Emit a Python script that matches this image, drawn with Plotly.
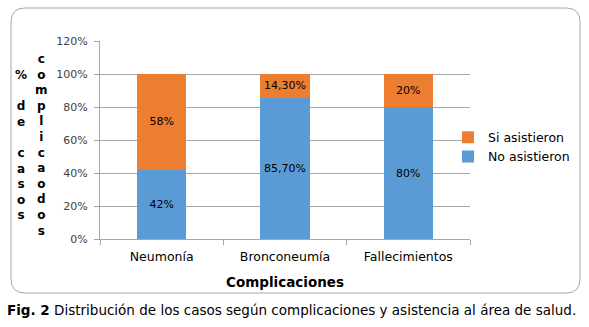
import plotly.graph_objects as go

categories = ["Neumonía", "Bronconeumía", "Fallecimientos"]
no_asistieron = [0.42, 0.857, 0.80]
si_asistieron = [0.58, 0.143, 0.20]
no_labels = ["42%", "85,70%", "80%"]
si_labels = ["58%", "14,30%", "20%"]
y_ticks = [0, 0.2, 0.4, 0.6, 0.8, 1.0, 1.2]
y_ticktext = ["0%", "20%", "40%", "60%", "80%", "100%", "120%"]

W, H = 589, 327
L, R, T, B = 100, 470, 41, 239  # plot area in pixels

BLUE = "#5B9BD5"
ORANGE = "#ED7D31"
GRID = "#A6A6A6"
FONT = "DejaVu Sans"


def px(x):
    return (x - L) / (R - L)


def py(y):
    return (B - y) / (B - T)


fig = go.Figure()
fig.add_trace(go.Bar(
    x=categories, y=no_asistieron, name="No asistieron",
    marker=dict(color=BLUE, line=dict(width=0)),
    text=no_labels, textposition="inside", insidetextanchor="middle",
    textangle=0, textfont=dict(family=FONT, size=11, color="#000000"),
    legendgroup="no", legendrank=2, hoverinfo="skip",
))
fig.add_trace(go.Bar(
    x=categories, y=si_asistieron, name="Si asistieron",
    marker=dict(color=ORANGE, line=dict(width=0)),
    text=si_labels, textposition="inside", insidetextanchor="middle",
    textangle=0, textfont=dict(family=FONT, size=11, color="#000000"),
    legendgroup="si", legendrank=1, hoverinfo="skip",
))

# rounded frame around the chart
x0, x1, y0, y1, r = 11, 580, 8, 293, 14
rx, ry = r / (R - L), r / (B - T)
X0, X1, Y0, Y1 = px(x0), px(x1), py(y1), py(y0)
path = (
    f"M {X0 + rx} {Y1} L {X1 - rx} {Y1} Q {X1} {Y1} {X1} {Y1 - ry} "
    f"L {X1} {Y0 + ry} Q {X1} {Y0} {X1 - rx} {Y0} "
    f"L {X0 + rx} {Y0} Q {X0} {Y0} {X0} {Y0 + ry} "
    f"L {X0} {Y1 - ry} Q {X0} {Y1} {X0 + rx} {Y1} Z"
)
fig.add_shape(type="path", path=path, xref="paper", yref="paper",
              line=dict(color=GRID, width=1), layer="below")

annotations = []
# stacked-letter y axis title in two columns
col1 = "%<br> <br>d<br>e<br> <br>c<br>a<br>s<br>o<br>s"
col2 = "c<br>o<br>m<br>p<br>l<br>i<br>c<br>a<br>o<br>d<br>o<br>s"
annotations.append(dict(text=col1, x=px(21), y=py(66), xref="paper", yref="paper",
                        xanchor="center", yanchor="top", showarrow=False, align="center",
                        font=dict(family=FONT, size=12, color="#000000", weight="bold")))
annotations.append(dict(text=col2, x=px(41), y=py(50), xref="paper", yref="paper",
                        xanchor="center", yanchor="top", showarrow=False, align="center",
                        font=dict(family=FONT, size=12, color="#000000", weight="bold")))
# caption below the frame
annotations.append(dict(
    text="<b>Fig. 2</b> Distribución de los casos según complicaciones y asistencia al área de salud.",
    x=px(5), y=py(310), xref="paper", yref="paper", xanchor="left", yanchor="middle",
    showarrow=False, font=dict(family=FONT, size=13.5, color="#000000")))

fig.update_layout(
    width=W, height=H,
    margin=dict(l=L, r=W - R, t=T, b=H - B),
    paper_bgcolor="white", plot_bgcolor="white",
    barmode="stack", bargap=0.6,
    font=dict(family=FONT, size=11, color="#000000"),
    showlegend=True,
    legend=dict(x=px(448), y=py(147), xanchor="left", yanchor="middle",
                traceorder="normal", tracegroupgap=2,
                font=dict(family=FONT, size=12.5, color="#000000"),
                itemwidth=30, bgcolor="rgba(0,0,0,0)"),
    annotations=annotations,
    uniformtext=dict(minsize=11, mode="show"),
)
fig.update_xaxes(
    showline=True, linecolor=GRID, linewidth=1,
    ticks="outside", tickson="boundaries", ticklen=5, tickcolor=GRID,
    ticklabelstandoff=6,
    tickfont=dict(family=FONT, size=12.5, color="#000000"),
    title=dict(text="<b>Complicaciones</b>", standoff=14,
               font=dict(family=FONT, size=13.5, color="#000000")),
    showgrid=False,
)
fig.update_yaxes(
    range=[0, 1.2], tickvals=y_ticks, ticktext=y_ticktext,
    showline=True, linecolor=GRID, linewidth=1,
    ticks="outside", ticklen=5, tickcolor=GRID,
    ticklabelstandoff=4,
    showgrid=True, gridcolor=GRID, gridwidth=1,
    tickfont=dict(family=FONT, size=11, color="#404040"),
    zeroline=False,
)

fig.write_html("out.html")
